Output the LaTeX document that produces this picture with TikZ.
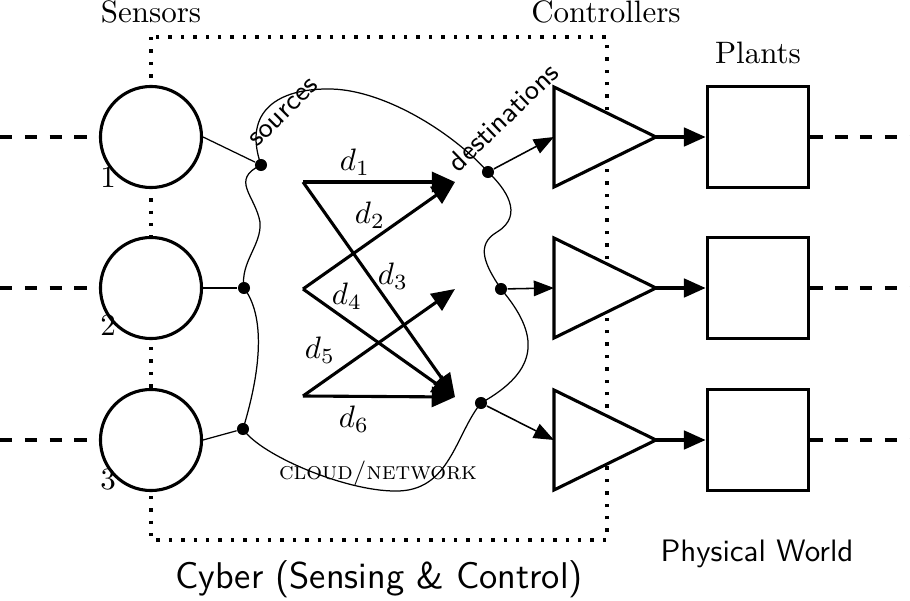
\documentclass[tikz,border=0pt]{standalone}
\usetikzlibrary{arrows.meta,calc}
\begin{document}
\begin{tikzpicture}[x=0.32258pt,y=-0.32258pt,
  sensorc/.style={circle,draw,line width=1pt,fill=white,inner sep=0pt,minimum size=32.6pt},
  plantbox/.style={rectangle,draw,line width=1.2pt,fill=white,inner sep=0pt,minimum size=32.6pt},
  netdot/.style={circle,fill,inner sep=0pt,minimum size=3.9pt},
  bigdash/.style={line width=1.1pt,dash pattern=on 4pt off 4pt},
  framebox/.style={line width=1.1pt,dash pattern=on 1.1pt off 2.9pt},
  thinlink/.style={line width=0.4pt},
  ctrlarrow/.style={line width=0.5pt,-{Triangle[length=6.5pt,width=5pt]}},
  plarrow/.style={line width=1pt,-{Triangle[length=7pt,width=6pt]}},
  darrow/.style={line width=1pt,-{Triangle[length=7.5pt,width=6.5pt]}},
  ctrltri/.style={draw,fill=white,line width=1pt},
  toplabel/.style={font=\normalsize},
  dlabel/.style={inner sep=0pt},
  sidelabel/.style={font=\sffamily\small,inner sep=0pt}
]
\useasboundingbox (0,0) rectangle (910,601);

% dotted cyber frame
\draw[framebox] (151,37) rectangle (607,540);

% sensors
\node[sensorc] (s1) at (151,137) {};
\node[sensorc] (s2) at (151,288) {};
\node[sensorc] (s3) at (151,440) {};
\node (k1) at (108,177) {1};
\node (k2) at (108,325) {2};
\node (k3) at (108,480) {3};

% left dashed inputs
\coordinate (l1) at (0,137);
\coordinate (l2) at (0,288);
\coordinate (l3) at (0,440);
\draw[bigdash] (l1) -- (s1.west);
\draw[bigdash] (l2) -- (s2.west);
\draw[bigdash] (l3) -- (s3.west);

% network dots
\node[netdot] (n1) at (261,165) {};
\node[netdot] (n2) at (244,288) {};
\node[netdot] (n3) at (243,429) {};
\node[netdot] (m1) at (488,172) {};
\node[netdot] (m2) at (501,289) {};
\node[netdot] (m3) at (481,403) {};

% cloud
\draw[thinlink] (n1.center)
  .. controls (242,110) and (280,89) .. (327,89)
  .. controls (380,88) and (450,130) .. (m1.center)
  .. controls (505,188) and (525,215) .. (497,232)
  .. controls (475,245) and (485,265) .. (m2.center)
  .. controls (540,335) and (540,370) .. (m3.center)
  .. controls (455,435) and (450,492) .. (395,491)
  .. controls (345,491) and (260,455) .. (n3.center)
  .. controls (258,380) and (268,320) .. (n2.center)
  .. controls (240,262) and (262,245) .. (260,222)
  .. controls (255,195) and (230,180) .. (n1.center);

\draw[thinlink] (s1.east) -- (n1);
\draw[thinlink] (s2.east) -- (n2);
\draw[thinlink] (s3.east) -- (n3);

\node[sidelabel,rotate=45] (src) at (284,113) {sources};
\node[sidelabel,rotate=44] (dst) at (503,117) {destinations};
\node (cloud) at (378,473) {\footnotesize\textsc{cloud/network}};

% flows
\coordinate (a1) at (303,182);
\coordinate (a2) at (303,289);
\coordinate (a3) at (303,396);
\coordinate (b1) at (455,182);
\coordinate (b2) at (455,289);
\coordinate (b3) at (455,397);
\draw[darrow] (a1) -- (b1);
\draw[darrow] (a2) -- (b1);
\draw[darrow] (a1) -- (b3);
\draw[darrow] (a2) -- (b3);
\draw[darrow] (a3) -- (b2);
\draw[darrow] (a3) -- (b3);
\node[dlabel] (ld1) at (355,162) {$d_1$};
\node[dlabel] (ld2) at (370,215) {$d_2$};
\node[dlabel] (ld3) at (393,276) {$d_3$};
\node[dlabel] (ld4) at (347,296) {$d_4$};
\node[dlabel] (ld5) at (320,350) {$d_5$};
\node[dlabel] (ld6) at (354,419) {$d_6$};

% controllers
\coordinate (t1w) at (554,137);
\coordinate (t2w) at (554,288);
\coordinate (t3w) at (554,440);
\filldraw[ctrltri] ($(t1w)+(0,-50)$) -- ($(t1w)+(0,50)$) -- ($(t1w)+(102,0)$) coordinate (t1e) -- cycle;
\filldraw[ctrltri] ($(t2w)+(0,-50)$) -- ($(t2w)+(0,50)$) -- ($(t2w)+(102,0)$) coordinate (t2e) -- cycle;
\filldraw[ctrltri] ($(t3w)+(0,-50)$) -- ($(t3w)+(0,50)$) -- ($(t3w)+(102,0)$) coordinate (t3e) -- cycle;
\draw[ctrlarrow] (m1) -- (t1w);
\draw[ctrlarrow] (m2) -- (t2w);
\draw[ctrlarrow] (m3) -- (t3w);

% plants
\node[plantbox] (p1) at (758,137) {};
\node[plantbox] (p2) at (758,288) {};
\node[plantbox] (p3) at (758,440) {};
\draw[plarrow] (t1e) -- (p1.west);
\draw[plarrow] (t2e) -- (p2.west);
\draw[plarrow] (t3e) -- (p3.west);
\coordinate (r1) at (910,137);
\coordinate (r2) at (910,288);
\coordinate (r3) at (910,440);
\draw[bigdash] (p1.east) -- (r1);
\draw[bigdash] (p2.east) -- (r2);
\draw[bigdash] (p3.east) -- (r3);

% titles
\node[toplabel] (tsens) at (151,12) {Sensors};
\node[toplabel] (tctrl) at (606,12) {Controllers};
\node[toplabel] (tplant) at (758,53) {Plants};
\node[font=\sffamily] (tphys) at (757,554) {Physical World};
\node[font=\sffamily\large] (tcyber) at (379,579) {Cyber (Sensing \& Control)};
\end{tikzpicture}
\end{document}
